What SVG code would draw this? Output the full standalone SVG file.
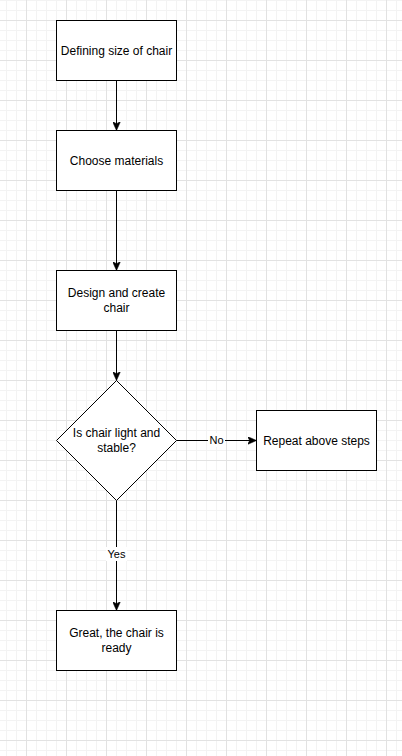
<svg xmlns="http://www.w3.org/2000/svg" width="402" height="756" viewBox="0 0 402 756">
<style>
.node{fill:#ffffff;stroke:#000000;stroke-width:1}
.t{font-family:"Liberation Sans",Arial,sans-serif;font-size:12px;fill:#000000;text-anchor:middle}
.lbl{font-family:"Liberation Sans",Arial,sans-serif;font-size:11px;fill:#000000;text-anchor:middle}
.edge{fill:none;stroke:#000000;stroke-width:1}
</style>
<defs>
<pattern id="grid" x="26" y="20" width="40" height="40" patternUnits="userSpaceOnUse">
<path d="M10.5,0V40M20.5,0V40M30.5,0V40M0,10.5H40M0,20.5H40M0,30.5H40" stroke="#f3f3f3" stroke-width="1" fill="none"/>
<path d="M0.5,0V40M0,0.5H40" stroke="#e2e2e2" stroke-width="1" fill="none"/>
</pattern>
<marker id="arr" viewBox="0 0 9 8" refX="9" refY="4" markerWidth="9" markerHeight="8" markerUnits="userSpaceOnUse" orient="auto">
<path d="M0,0 L9,4 L0,8 L2.2,4 Z" fill="#000000" stroke="#000000" stroke-width="0.5"/>
</marker>
</defs>
<rect x="0" y="0" width="402" height="756" fill="#ffffff"/>
<rect x="0" y="0" width="402" height="756" fill="url(#grid)"/>
<g id="connectors">
<path class="edge" d="M116.5,80.5V130.5" marker-end="url(#arr)"/>
<path class="edge" d="M116.5,190.5V270.5" marker-end="url(#arr)"/>
<path class="edge" d="M116.5,330.5V380.5" marker-end="url(#arr)"/>
<path class="edge" d="M176.5,440.5H256.5" marker-end="url(#arr)"/>
<path class="edge" d="M116.5,500.5V610.5" marker-end="url(#arr)"/>
<rect x="208" y="433" width="17" height="14" fill="#ffffff"/>
<text class="lbl" x="216.5" y="444.3">No</text>
<rect x="106" y="547" width="21" height="14" fill="#ffffff"/>
<text class="lbl" x="116.5" y="558.3">Yes</text>
</g>
<g id="n1">
<rect class="node" x="56.5" y="20.5" width="120" height="60"/>
<text class="t" x="116.5" y="54.5">Defining size of chair</text>
</g>
<g id="n2">
<rect class="node" x="56.5" y="130.5" width="120" height="60"/>
<text class="t" x="116.5" y="164.5">Choose materials</text>
</g>
<g id="n3">
<rect class="node" x="56.5" y="270.5" width="120" height="60"/>
<text class="t" x="116.5" y="297">Design and create</text>
<text class="t" x="116.5" y="311.5">chair</text>
</g>
<g id="n4">
<path class="node" d="M116.5,380.5L176.5,440.5L116.5,500.5L56.5,440.5Z"/>
<text class="t" x="116.5" y="437">Is chair light and</text>
<text class="t" x="116.5" y="451.5">stable?</text>
</g>
<g id="n5">
<rect class="node" x="256.5" y="410.5" width="120" height="60"/>
<text class="t" x="316.5" y="444.5">Repeat above steps</text>
</g>
<g id="n6">
<rect class="node" x="56.5" y="610.5" width="120" height="60"/>
<text class="t" x="116.5" y="637">Great, the chair is</text>
<text class="t" x="116.5" y="651.5">ready</text>
</g>
</svg>
